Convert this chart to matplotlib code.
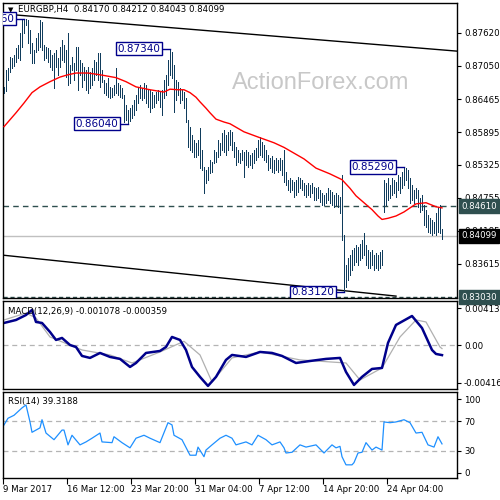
import matplotlib.pyplot as plt
import matplotlib.transforms as mtransforms

# EURGBP H4 bars (high / low), bar index 0 = 9 Mar 2017 00:00
highs = [
    0.8668, 0.8697, 0.8701, 0.8720, 0.8718, 0.8723, 0.8736, 0.8741, 0.8762, 0.8784,
    0.8786, 0.8785, 0.8784, 0.8767, 0.8744, 0.8732, 0.8753, 0.8762, 0.8784, 0.8780,
    0.8741, 0.8737, 0.8736, 0.8732, 0.8723, 0.8727, 0.8732, 0.8718, 0.8737, 0.8749,
    0.8741, 0.8732, 0.8762, 0.8706, 0.8720, 0.8710, 0.8737, 0.8737, 0.8715,
    0.8710, 0.8703, 0.8697, 0.8703, 0.8694, 0.8701, 0.8715, 0.8711, 0.8727, 0.8727,
    0.8697, 0.8680, 0.8675, 0.8684, 0.8668, 0.8666, 0.8671, 0.8701, 0.8675, 0.8671,
    0.8666, 0.8654, 0.8637, 0.8628, 0.8631, 0.8637, 0.8645, 0.8654, 0.8668, 0.8671,
    0.8666, 0.8675, 0.8671, 0.8663, 0.8663,
    0.8659, 0.8654, 0.8659, 0.8663, 0.8659, 0.8663, 0.8680, 0.8689, 0.8715, 0.8734,
    0.8729, 0.8706, 0.8680, 0.8677, 0.8666, 0.8663, 0.8659, 0.8649, 0.8611, 0.8599,
    0.8585, 0.8576, 0.8571, 0.8576, 0.8597, 0.8559, 0.8529, 0.8524, 0.8529, 0.8541,
    0.8538, 0.8559, 0.8555, 0.8576, 0.8571, 0.8588, 0.8593, 0.8585, 0.8590, 0.8593,
    0.8590, 0.8573, 0.8564, 0.8559, 0.8554, 0.8559, 0.8555, 0.8559, 0.8555, 0.8550,
    0.8554, 0.8559, 0.8562, 0.8576, 0.8581, 0.8573, 0.8567, 0.8559, 0.8550, 0.8545,
    0.8548, 0.8541, 0.8545, 0.8541, 0.8545, 0.8541, 0.8559, 0.8520, 0.8507, 0.8510,
    0.8507, 0.8503, 0.8507, 0.8512, 0.8510,
    0.8507, 0.8501, 0.8498, 0.8501, 0.8498, 0.8501, 0.8495, 0.8493, 0.8495, 0.8489,
    0.8484, 0.8481, 0.8484, 0.8493, 0.8489, 0.8486, 0.8481, 0.8484, 0.8481, 0.8477,
    0.8515, 0.8411, 0.8359, 0.8371, 0.8376, 0.8385, 0.8389, 0.8394, 0.8390, 0.8396,
    0.8402, 0.8415, 0.8394, 0.8385, 0.8382, 0.8385, 0.8376, 0.8380, 0.8376, 0.8382,
    0.8385,
    0.8507, 0.8501, 0.8510, 0.8498, 0.8510, 0.8507, 0.8503, 0.8515, 0.8512, 0.8520,
    0.8529, 0.8527, 0.8524, 0.8510, 0.8498, 0.8489, 0.8493, 0.8489, 0.8475, 0.8481,
    0.8463, 0.8455, 0.8446, 0.8441, 0.8437, 0.8434, 0.8450, 0.8460, 0.8463, 0.84212,
]
lows = [
    0.8658, 0.8660, 0.8680, 0.8694, 0.8701, 0.8704, 0.8711, 0.8718, 0.8715, 0.8737,
    0.8762, 0.8775, 0.8744, 0.8727, 0.8710, 0.8710, 0.8729, 0.8732, 0.8737, 0.8732,
    0.8715, 0.8718, 0.8711, 0.8703, 0.8697, 0.8666, 0.8703, 0.8689, 0.8703, 0.8715,
    0.8711, 0.8685, 0.8671, 0.8675, 0.8697, 0.8680, 0.8697, 0.8663, 0.8689,
    0.8668, 0.8680, 0.8663, 0.8658, 0.8666, 0.8671, 0.8680, 0.8689, 0.8680, 0.8668,
    0.8677, 0.8658, 0.8654, 0.8651, 0.8649, 0.8651, 0.8654, 0.8658, 0.8654, 0.8651,
    0.8649, 0.8607, 0.8611, 0.8604, 0.8609, 0.8614, 0.8619, 0.8628, 0.8640, 0.8649,
    0.8645, 0.8649, 0.8640, 0.8633, 0.8625,
    0.8632, 0.8633, 0.8640, 0.8645, 0.8633, 0.8619, 0.8649, 0.8654, 0.8671, 0.8689,
    0.8684, 0.8625, 0.8645, 0.8654, 0.8640, 0.8645, 0.8632, 0.8607, 0.8564, 0.8559,
    0.8555, 0.8547, 0.8547, 0.8550, 0.8527, 0.8524, 0.8484, 0.8501, 0.8507, 0.8519,
    0.8520, 0.8536, 0.8538, 0.8547, 0.8550, 0.8559, 0.8555, 0.8550, 0.8559, 0.8567,
    0.8559, 0.8547, 0.8533, 0.8538, 0.8536, 0.8541, 0.8512, 0.8533, 0.8529, 0.8533,
    0.8527, 0.8536, 0.8541, 0.8547, 0.8550, 0.8547, 0.8541, 0.8538, 0.8524, 0.8527,
    0.8520, 0.8519, 0.8524, 0.8520, 0.8524, 0.8515, 0.8503, 0.8498, 0.8489, 0.8486,
    0.8489, 0.8477, 0.8481, 0.8486, 0.8493,
    0.8489, 0.8481, 0.8477, 0.8481, 0.8477, 0.8484, 0.8472, 0.8472, 0.8475, 0.8468,
    0.8463, 0.8463, 0.8467, 0.8472, 0.8467, 0.8463, 0.8460, 0.8463, 0.8460, 0.8449,
    0.8402, 0.8312, 0.8321, 0.8333, 0.8342, 0.8350, 0.8359, 0.8364, 0.8359, 0.8368,
    0.8371, 0.8376, 0.8359, 0.8354, 0.8354, 0.8359, 0.8350, 0.8354, 0.8350, 0.8354,
    0.8359,
    0.8451, 0.8463, 0.8472, 0.8475, 0.8481, 0.8484, 0.8477, 0.8489, 0.8484, 0.8493,
    0.8498, 0.8507, 0.8493, 0.8467, 0.8472, 0.8467, 0.8475, 0.8460, 0.8451, 0.8455,
    0.8428, 0.8425, 0.8417, 0.8415, 0.8411, 0.8415, 0.8411, 0.8417, 0.8415, 0.84043,
]

# moving average (red), read at sampled bars
ma_idx = [0, 3, 6, 10, 14, 18, 23, 28, 32, 36, 42, 48, 56, 61, 66, 73, 80, 83, 87,
          90, 93, 96, 98, 101, 103, 106, 110, 113, 120, 127, 135, 140, 144, 150,
          156, 163, 169, 173, 176, 180, 184, 187, 189, 192, 196, 200, 203, 206,
          211, 216, 219]
ma_val = [0.8599, 0.8611, 0.8623, 0.8640, 0.8658, 0.8668, 0.8677, 0.8685, 0.8689,
          0.8692, 0.8692, 0.8689, 0.8684, 0.8677, 0.8668, 0.8663, 0.8659, 0.8664,
          0.8663, 0.8663, 0.8658, 0.8650, 0.8642, 0.8631, 0.8623, 0.8612, 0.8607,
          0.8604, 0.8590, 0.8581, 0.8571, 0.8563, 0.8555, 0.8543, 0.8527, 0.8517,
          0.8507, 0.8492, 0.8479, 0.8467, 0.8455, 0.8444, 0.8438, 0.8440, 0.8444,
          0.8451, 0.8458, 0.8465, 0.8467, 0.8460, 0.8458]

# trend lines (bar index, price)
upper_tl = ([-2, 226.5], [0.8795, 0.8730])
lower_tl = ([-0.5, 196], [0.8376, 0.8305])

# MACD main and signal
macd_idx = [0, 6, 11, 14, 16, 19, 23, 26, 29, 33, 36, 39, 43, 48, 53, 58, 63, 66,
            71, 78, 81, 84, 88, 91, 94, 98, 102, 106, 111, 114, 121, 128, 134, 139,
            146, 153, 161, 168, 171, 175, 179, 184, 189, 192, 196, 204, 209, 214,
            216, 219]
macd_val = [0.00248, 0.00281, 0.00336, 0.00392, 0.00259, 0.00248, 0.00148, 0.00060,
            0.00082, 0.00004, -0.00018, -0.00117, -0.00139, -0.00084, -0.00128,
            -0.00150, -0.00239, -0.00195, -0.00084, -0.00062, -0.00018, 0.00093,
            0.00060, -0.00051, -0.00239, -0.00349, -0.00449, -0.00349, -0.00161,
            -0.00106, -0.00128, -0.00073, -0.00084, -0.00117, -0.00195, -0.00173,
            -0.00150, -0.00139, -0.00294, -0.00438, -0.00349, -0.00261, -0.00250,
            0.00027, 0.00226, 0.00325, 0.00192, -0.00051, -0.00095, -0.001078]
sig_idx = [0, 11, 16, 23, 39, 53, 64, 78, 90, 98, 104, 114, 128, 148, 171, 178,
           189, 198, 206, 211, 218, 219]
sig_val = [0.00281, 0.00358, 0.00303, 0.00093, -0.00051, -0.00106, -0.00195,
           -0.00073, 0.00045, -0.00106, -0.00405, -0.00139, -0.00073, -0.00161,
           -0.00195, -0.00383, -0.00250, 0.00093, 0.00281, 0.00259, -0.00018,
           -0.000359]

# RSI(14)
rsi_idx = [0, 2, 5, 9, 11, 13, 14, 18, 19, 21, 25, 29, 30, 32, 34, 38, 41, 44, 48,
           49, 54, 55, 59, 63, 66, 70, 73, 78, 82, 84, 85, 89, 93, 96, 97, 100, 101,
           104, 108, 111, 114, 116, 121, 124, 127, 131, 134, 138, 140, 141, 144, 148,
           151, 156, 160, 164, 166, 168, 169, 171, 174, 175, 177, 179, 181, 184, 186,
           189, 190, 193, 196, 200, 203, 206, 209, 212, 215, 217, 219]
rsi_val = [65, 74, 78, 88, 92, 69, 55, 61, 72, 54, 45, 58, 58, 38, 51, 38, 42, 47, 54,
           42, 41, 49, 41, 34, 47, 51, 47, 41, 68, 65, 51, 45, 24, 24, 35, 22, 31,
           38, 47, 51, 47, 38, 42, 38, 51, 45, 38, 42, 34, 27, 28, 38, 35, 38, 27,
           38, 34, 36, 22, 11, 11, 14, 27, 28, 41, 31, 35, 31, 69, 68, 69, 72, 68,
           54, 55, 38, 35, 49, 39.3188]

price_ticks = [0.87620, 0.87050, 0.86465, 0.85895, 0.85325, 0.84755, 0.84185, 0.83615]
date_ticks = [-0.5, 31.5, 63.5, 95.5, 127.5, 159.5, 191.5]
date_labels = ["9 Mar 2017", "16 Mar 12:00", "23 Mar 20:00", "31 Mar 04:00",
               "7 Apr 12:00", "14 Apr 20:00", "24 Apr 04:00"]

# boxed swing labels: (bar index, price, text)
swing_labels = [(10, 0.8786, "0.87860"), (83, 0.8734, "0.87340"),
                (62, 0.8604, "0.86040"), (200, 0.8529, "0.85290"),
                (170, 0.8312, "0.83120")]

BAR = "#103c5c"
NAVY = "#00008b"
FS = 6.2

fig = plt.figure(figsize=(5, 5), dpi=100)


def px_axes(x0, y0, x1, y1):
    return fig.add_axes([x0 / 500, 1 - y1 / 500, (x1 - x0) / 500, (y1 - y0) / 500])


ax = px_axes(3, 3, 457, 298)
ax_m = px_axes(3, 301, 457, 389)
ax_r = px_axes(3, 392, 457, 478)

for a in (ax, ax_m, ax_r):
    a.set_xlim(-0.5, 226.5)
    a.yaxis.tick_right()
    a.tick_params(axis="y", direction="out", length=3, labelsize=FS, pad=2,
                  width=0.8)
    for s in a.spines.values():
        s.set_linewidth(1.0)
    a.set_facecolor("white")

# ---- main price panel
idx = list(range(len(highs)))
ax.set_ylim(0.83017, 0.88135)
ax.vlines(idx, lows, highs, color=BAR, lw=0.5, antialiased=False, zorder=3)
ax.plot(ma_idx, ma_val, color="red", lw=1.0, zorder=4)
ax.plot(*upper_tl, color="black", lw=1.0, zorder=2)
ax.plot(*lower_tl, color="black", lw=1.0, zorder=2)
ax.axhline(0.84610, color="#2f4f4f", lw=1.0, ls=(0, (4, 3)), zorder=1)
ax.axhline(0.84099, color="#c0c0c0", lw=1.0, zorder=1)
ax.axhline(0.83030, color="#2f4f4f", lw=1.0, ls=(0, (3, 2)), zorder=1)
ax.set_xticks([])
ax.set_yticks(price_ticks)
ax.set_yticklabels([f"{v:.5f}" for v in price_ticks])

for i, p, txt in swing_labels:
    x_box = i - 5
    ax.plot([x_box, i], [p, p], color=NAVY, lw=1.0, zorder=5, clip_on=True)
    ax.text(x_box, p, txt, ha="right", va="center", fontsize=7.5, color=NAVY,
            zorder=6, clip_on=True,
            bbox=dict(boxstyle="square,pad=0.15", fc="white", ec=NAVY, lw=1.0))

ax.text(0.012, 0.977, "\u25bc", transform=ax.transAxes, fontsize=5, va="center",
        ha="left")
ax.text(0.034, 0.977, "EURGBP,H4  0.84170 0.84212 0.84043 0.84099",
        transform=ax.transAxes, fontsize=FS, va="center", ha="left")
ax.text(0.70, 0.729, "ActionForex.com", transform=ax.transAxes, fontsize=17,
        color="#c8c8c8", ha="center", va="center", family="Liberation Sans",
        zorder=0)

trans = mtransforms.blended_transform_factory(ax.transAxes, ax.transData)
for p, bg in [(0.84610, "#2f4f4f"), (0.84099, "black"), (0.83030, "#2f4f4f")]:
    ax.text(1.01, p, f"{p:.5f}", transform=trans, fontsize=FS, color="white",
            ha="left", va="center", zorder=10,
            bbox=dict(boxstyle="square,pad=0.28", fc=bg, ec=bg))

# ---- MACD panel
ax_m.set_ylim(-0.00483, 0.00491)
ax_m.axhline(0, color="#b4b4b4", lw=0.9, ls=(0, (4, 3)))
ax_m.plot(sig_idx, sig_val, color="#b0b0b0", lw=0.9)
ax_m.plot(macd_idx, macd_val, color=NAVY, lw=1.8)
ax_m.set_xticks([])
ax_m.set_yticks([0.004131, 0.0, -0.004162])
ax_m.set_yticklabels(["0.004131", "0.00", "-0.004162"])
ax_m.text(0.01, 0.88, "MACD(12,26,9) -0.001078 -0.000359", transform=ax_m.transAxes,
          fontsize=FS, va="center", ha="left")

# ---- RSI panel
ax_r.set_ylim(-6.8, 109.5)
ax_r.axhline(70, color="#b4b4b4", lw=0.9, ls=(0, (4, 3)))
ax_r.axhline(30, color="#b4b4b4", lw=0.9, ls=(0, (4, 3)))
ax_r.plot(rsi_idx, rsi_val, color="#1e90ff", lw=0.9)
ax_r.set_yticks([100, 70, 30, 0])
ax_r.set_yticklabels(["100", "70", "30", "0"])
ax_r.text(0.01, 0.895, "RSI(14) 39.3188", transform=ax_r.transAxes,
          fontsize=FS, va="center", ha="left")
ax_r.set_xticks(date_ticks)
ax_r.set_xticklabels(date_labels)
ax_r.tick_params(axis="x", direction="out", length=4, labelsize=FS, pad=1, width=0.8)
for lab in ax_r.get_xticklabels():
    lab.set_ha("left")

fig.savefig("out.png", dpi=100)
